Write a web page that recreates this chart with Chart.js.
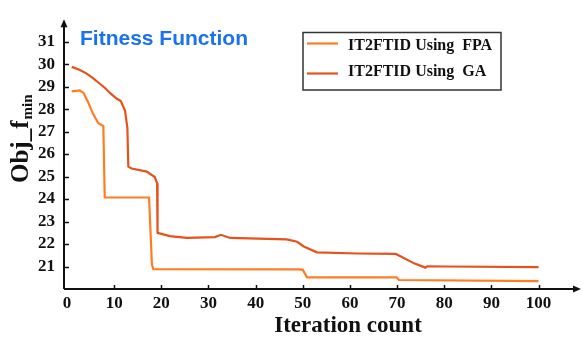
<!DOCTYPE html>
<html>
<head>
<meta charset="utf-8">
<script src="https://cdn.jsdelivr.net/npm/chart.js@4.4.1/dist/chart.umd.min.js"></script>
<style>
  body { margin: 0; background: #fff; }
  canvas { display: block; }
</style>
</head>
<body>
<canvas id="fitness" width="583" height="340"></canvas>
<script>
// convergence of the objective over iterations
const fpaIter = [1, 2.7, 3.5, 4.5, 5.5, 6.6, 7.5, 7.7, 8.0, 17.4, 18.0, 18.3, 49.2, 50.0, 50.9, 69.9, 70.4, 100];
const fpaValues = [28.79, 28.83, 28.72, 28.30, 27.80, 27.38, 27.27, 27.25, 24.07, 24.07, 21.1, 20.88, 20.87, 20.85, 20.52, 20.52, 20.40, 20.35];

const gaIter = [1, 2.5, 4.1, 5.5, 6.9, 8.0, 9.1, 10.5, 11.4, 12.3, 12.8, 13.0, 13.7, 16.9, 18.6, 19.1, 19.2, 21.8, 25.4, 31.4, 32.6, 34.6, 46.6, 48.8, 50.2, 53, 61.5, 69.7, 70.7, 73.6, 76.0, 76.4, 80, 100];
const gaValues = [29.88, 29.76, 29.59, 29.38, 29.14, 28.95, 28.72, 28.47, 28.36, 27.94, 27.17, 25.44, 25.36, 25.22, 24.98, 24.70, 22.50, 22.35, 22.27, 22.31, 22.41, 22.27, 22.21, 22.10, 21.89, 21.63, 21.58, 21.56, 21.46, 21.14, 20.95, 21.01, 21.00, 20.97];

const seriesNames = ["IT2FTID Using  FPA", "IT2FTID Using  GA"];
const seriesColors = ["#ff7d22", "#e5531b"];

const xTicks = [0, 10, 20, 30, 40, 50, 60, 70, 80, 90, 100];
const yTicks = [21, 22, 23, 24, 25, 26, 27, 28, 29, 30, 31];

const serif = "'Liberation Serif', 'Times New Roman', serif";

function toPoints(xs, ys) {
  return xs.map((x, i) => ({ x: x, y: ys[i] }));
}

// axes with arrows, inward tick marks, titles and the boxed legend
const decorations = {
  id: "decorations",
  afterDraw(chart) {
    const ctx = chart.ctx;
    const area = chart.chartArea;
    const xs = chart.scales.x;
    const ys = chart.scales.y;
    const ox = area.left, oy = area.bottom;

    ctx.save();
    ctx.strokeStyle = "#111";
    ctx.fillStyle = "#111";
    ctx.lineWidth = 2;
    ctx.beginPath();
    ctx.moveTo(ox, oy);
    ctx.lineTo(ox, area.top + 2);
    ctx.moveTo(ox, oy);
    ctx.lineTo(area.right - 2, oy);
    ctx.stroke();

    // arrow heads
    ctx.beginPath();
    ctx.moveTo(ox, area.top);
    ctx.lineTo(ox - 3.5, area.top + 8);
    ctx.lineTo(ox + 3.5, area.top + 8);
    ctx.closePath();
    ctx.fill();
    ctx.beginPath();
    ctx.moveTo(area.right, oy);
    ctx.lineTo(area.right - 8, oy - 3.5);
    ctx.lineTo(area.right - 8, oy + 3.5);
    ctx.closePath();
    ctx.fill();

    // tick marks pointing into the plot
    ctx.lineWidth = 1.5;
    ctx.beginPath();
    xTicks.forEach(v => {
      if (v === 0) return;
      const px = Math.round(xs.getPixelForValue(v)) + 0.5;
      ctx.moveTo(px, oy);
      ctx.lineTo(px, oy - 4);
    });
    yTicks.forEach(v => {
      const py = Math.round(ys.getPixelForValue(v)) + 0.5;
      ctx.moveTo(ox, py);
      ctx.lineTo(ox + 5, py);
    });
    ctx.stroke();

    // x title
    ctx.font = "bold 23px " + serif;
    ctx.textAlign = "center";
    ctx.textBaseline = "alphabetic";
    ctx.fillText("Iteration count", 348, 332);

    // y title with subscript
    ctx.save();
    ctx.translate(28, 183);
    ctx.rotate(-Math.PI / 2);
    ctx.textAlign = "left";
    ctx.font = "bold 25px " + serif;
    ctx.fillText("Obj_f", 0, 0);
    const w = ctx.measureText("Obj_f").width;
    ctx.font = "bold 15px " + serif;
    ctx.fillText("min", w + 1, 4);
    ctx.restore();

    // heading inside the plot
    ctx.fillStyle = "#1a72ee";
    ctx.font = "bold 21px 'Liberation Sans', Arial, sans-serif";
    ctx.textAlign = "left";
    ctx.fillText("Fitness Function", 80, 45);

    // legend box
    ctx.fillStyle = "#fff";
    ctx.fillRect(303, 32.5, 198, 57.5);
    ctx.strokeStyle = "#333";
    ctx.lineWidth = 1.5;
    ctx.strokeRect(303, 32.5, 198, 57.5);
    const rows = [{ line: 43.5, text: 46 }, { line: 73.5, text: 72 }];
    ctx.font = "bold 16px " + serif;
    ctx.textBaseline = "middle";
    chart.data.datasets.forEach((ds, i) => {
      ctx.strokeStyle = ds.borderColor;
      ctx.lineWidth = 2.2;
      ctx.beginPath();
      ctx.moveTo(307, rows[i].line);
      ctx.lineTo(338, rows[i].line);
      ctx.stroke();
      ctx.fillStyle = "#111";
      ctx.fillText(ds.label, 348, rows[i].text);
    });
    ctx.restore();
  }
};

new Chart(document.getElementById("fitness"), {
  type: "line",
  data: {
    datasets: [
      {
        label: seriesNames[0],
        data: toPoints(fpaIter, fpaValues),
        borderColor: seriesColors[0],
        borderWidth: 2.2,
        pointRadius: 0,
        tension: 0,
        fill: false
      },
      {
        label: seriesNames[1],
        data: toPoints(gaIter, gaValues),
        borderColor: seriesColors[1],
        borderWidth: 2.2,
        pointRadius: 0,
        tension: 0,
        fill: false
      }
    ]
  },
  options: {
    responsive: false,
    animation: false,
    devicePixelRatio: 1,
    layout: { padding: { top: 6, right: 2, left: 0, bottom: 0 } },
    plugins: {
      legend: { display: false },
      tooltip: { enabled: false }
    },
    scales: {
      x: {
        type: "linear",
        min: -0.64,
        max: 109,
        grid: { display: false, drawTicks: false },
        border: { display: false },
        ticks: {
          padding: 4,
          color: "#111",
          font: { family: serif, size: 17, weight: "bold" }
        },
        afterBuildTicks: s => { s.ticks = xTicks.map(v => ({ value: v })); },
        afterFit: s => { s.height = 51; }
      },
      y: {
        min: 20,
        max: 32,
        grid: { display: false, drawTicks: false },
        border: { display: false },
        ticks: {
          padding: 9,
          color: "#111",
          font: { family: serif, size: 17, weight: "bold" }
        },
        afterBuildTicks: s => { s.ticks = yTicks.map(v => ({ value: v })); },
        afterFit: s => { s.width = 64; }
      }
    }
  },
  plugins: [decorations]
});
</script>
</body>
</html>
